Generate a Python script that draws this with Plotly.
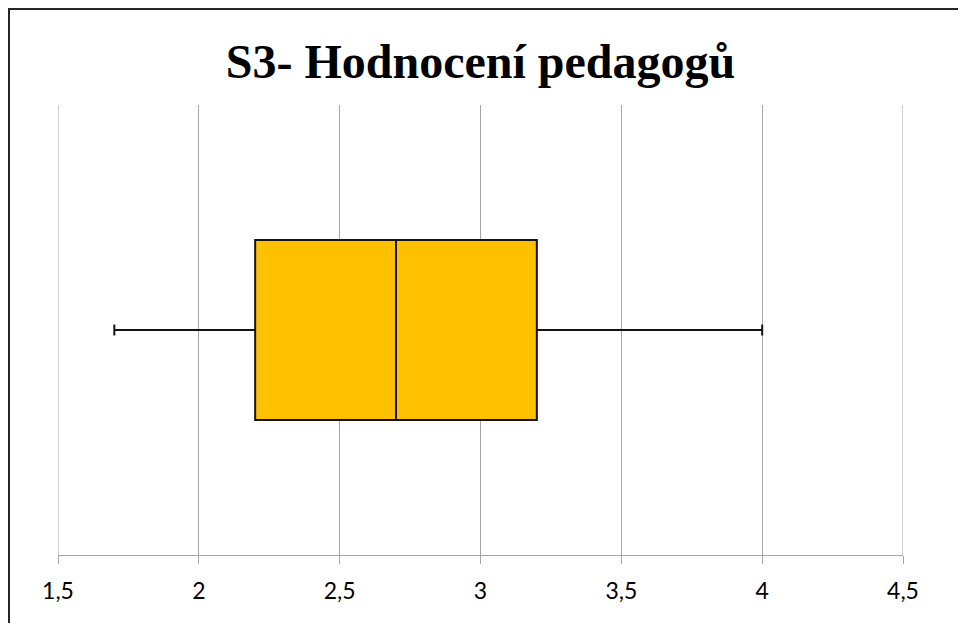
import plotly.graph_objects as go

title_text = "S3- Hodnocení pedagogů"
category = ["S3"]
lower_whisker = [1.7]
q1_values = [2.2]
median_values = [2.7]
q3_values = [3.2]
upper_whisker = [4.0]
tick_values = [1.5, 2, 2.5, 3, 3.5, 4, 4.5]
tick_labels = ["1,5", "2", "2,5", "3", "3,5", "4", "4,5"]

fig = go.Figure()
fig.add_trace(go.Box(
    y=[0],
    orientation="h",
    q1=q1_values,
    median=median_values,
    q3=q3_values,
    lowerfence=lower_whisker,
    upperfence=upper_whisker,
    width=0.4,
    whiskerwidth=0.06,
    fillcolor="#FFC000",
    line=dict(color="#141414", width=2),
    boxpoints=False,
    hoverinfo="x",
    name=category[0],
    showlegend=False,
))

# page body has an 8px margin; figure coordinates are offset accordingly
L, T = 50, 97
W, H = 845, 450
grid_color = "#A6A6A6"
edge_lines = [dict(type="line", xref="x", yref="paper", x0=v, x1=v, y0=0, y1=1,
                   line=dict(color=grid_color, width=1), layer="below")
              for v in (tick_values[0], tick_values[-1])]
fig.update_layout(
    width=966, height=623,
    margin=dict(l=L, r=966 - L - W, t=T, b=623 - T - H),
    paper_bgcolor="white",
    plot_bgcolor="white",
    title=dict(text="<b>" + title_text + "</b>", x=0.5, xref="paper", xanchor="center",
               y=1 - 53 / 623, yref="container", yanchor="middle",
               font=dict(family="Liberation Serif", size=48, color="black")),
    xaxis=dict(range=[tick_values[0], tick_values[-1]], tickvals=tick_values, ticktext=tick_labels,
               showgrid=True, gridcolor=grid_color, gridwidth=1,
               showline=True, linecolor=grid_color, linewidth=1,
               ticks="outside", ticklen=8, tickcolor=grid_color,
               ticklabelstandoff=7,
               zeroline=False,
               tickfont=dict(family="Lato", size=23, color="black")),
    yaxis=dict(range=[-0.5, 0.5], visible=False, showgrid=False, zeroline=False),
    shapes=edge_lines + [dict(type="rect", xref="paper", yref="paper",
                 x0=(1 - L) / W, x1=1.3, y0=-0.4, y1=(T + H - 1) / H,
                 line=dict(color="#262626", width=2), fillcolor="rgba(0,0,0,0)")],
)

fig.write_html("out.html")
